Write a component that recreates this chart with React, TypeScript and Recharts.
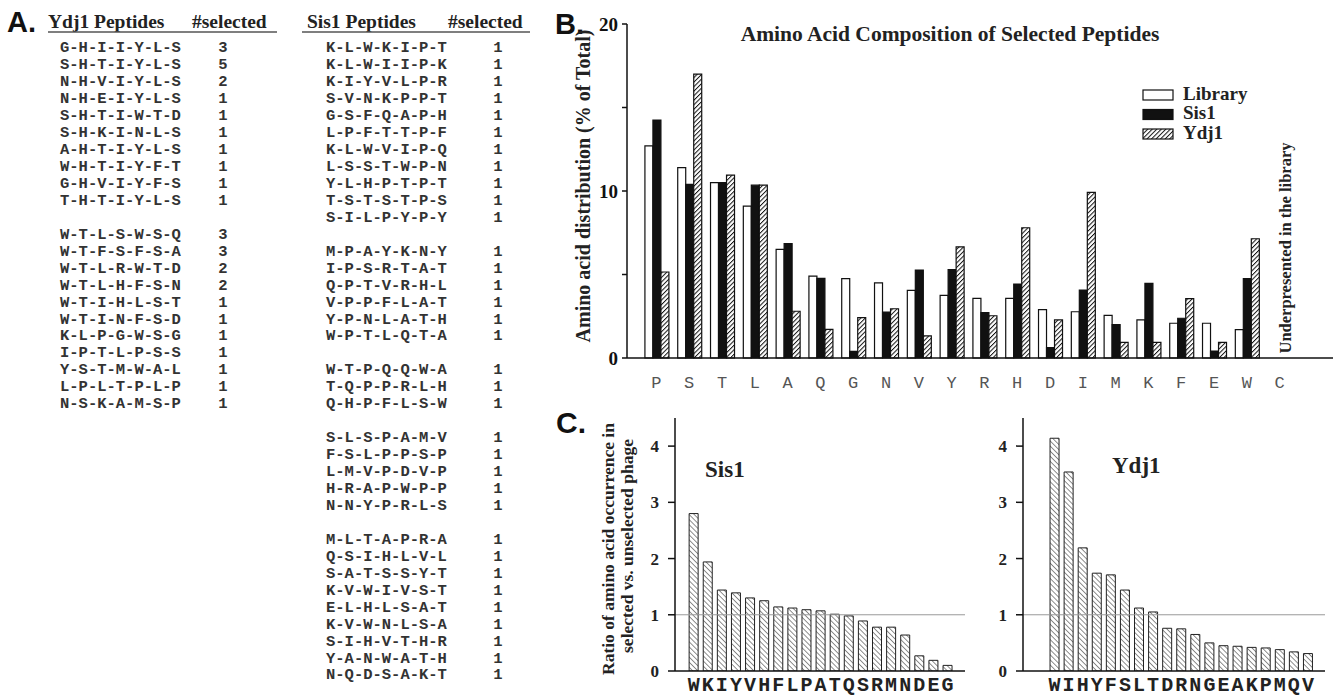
import React from 'react';
import { BarChart, Bar, XAxis, YAxis, ReferenceLine } from 'recharts';

const SERIF = '"Liberation Serif", "Times New Roman", serif';
const SANS = '"Liberation Sans", Arial, sans-serif';
const MONO = '"Liberation Mono", "Courier New", monospace';

// Panel A: selected peptides (groups separated by a blank row)
const ydj1Peptides: string[][] = [
  ['G-H-I-I-Y-L-S', 'S-H-T-I-Y-L-S', 'N-H-V-I-Y-L-S', 'N-H-E-I-Y-L-S', 'S-H-T-I-W-T-D',
    'S-H-K-I-N-L-S', 'A-H-T-I-Y-L-S', 'W-H-T-I-Y-F-T', 'G-H-V-I-Y-F-S', 'T-H-T-I-Y-L-S'],
  ['W-T-L-S-W-S-Q', 'W-T-F-S-F-S-A', 'W-T-L-R-W-T-D', 'W-T-L-H-F-S-N', 'W-T-I-H-L-S-T',
    'W-T-I-N-F-S-D', 'K-L-P-G-W-S-G', 'I-P-T-L-P-S-S', 'Y-S-T-M-W-A-L', 'L-P-L-T-P-L-P',
    'N-S-K-A-M-S-P'],
];
const ydj1Selected: number[][] = [
  [3, 5, 2, 1, 1, 1, 1, 1, 1, 1],
  [3, 3, 2, 2, 1, 1, 1, 1, 1, 1, 1],
];
const sis1Peptides: string[][] = [
  ['K-L-W-K-I-P-T', 'K-L-W-I-I-P-K', 'K-I-Y-V-L-P-R', 'S-V-N-K-P-P-T', 'G-S-F-Q-A-P-H',
    'L-P-F-T-T-P-F', 'K-L-W-V-I-P-Q', 'L-S-S-T-W-P-N', 'Y-L-H-P-T-P-T', 'T-S-T-S-T-P-S',
    'S-I-L-P-Y-P-Y'],
  ['M-P-A-Y-K-N-Y', 'I-P-S-R-T-A-T', 'Q-P-T-V-R-H-L', 'V-P-P-F-L-A-T', 'Y-P-N-L-A-T-H',
    'W-P-T-L-Q-T-A'],
  ['W-T-P-Q-Q-W-A', 'T-Q-P-P-R-L-H', 'Q-H-P-F-L-S-W'],
  ['S-L-S-P-A-M-V', 'F-S-L-P-P-S-P', 'L-M-V-P-D-V-P', 'H-R-A-P-W-P-P', 'N-N-Y-P-R-L-S'],
  ['M-L-T-A-P-R-A', 'Q-S-I-H-L-V-L', 'S-A-T-S-S-Y-T', 'K-V-W-I-V-S-T', 'E-L-H-L-S-A-T',
    'K-V-W-N-L-S-A', 'S-I-H-V-T-H-R', 'Y-A-N-W-A-T-H', 'N-Q-D-S-A-K-T'],
];
const sis1Selected: number[][] = [
  [1, 1, 1, 1, 1, 1, 1, 1, 1, 1, 1],
  [1, 1, 1, 1, 1, 1],
  [1, 1, 1],
  [1, 1, 1, 1, 1],
  [1, 1, 1, 1, 1, 1, 1, 1, 1],
];

// Panel B: amino acid composition (% of total)
const aminoAcids = ['P', 'S', 'T', 'L', 'A', 'Q', 'G', 'N', 'V', 'Y', 'R', 'H', 'D', 'I', 'M', 'K', 'F', 'E', 'W', 'C'];
const libraryPct = [12.7, 11.4, 10.5, 9.1, 6.5, 4.9, 4.75, 4.5, 4.05, 3.75, 3.57, 3.57, 2.9, 2.77, 2.55, 2.28, 2.08, 2.08, 1.7, null];
const sis1Pct = [14.25, 10.4, 10.5, 10.35, 6.85, 4.77, 0.4, 2.75, 5.27, 5.3, 2.72, 4.43, 0.62, 4.07, 2.0, 4.47, 2.38, 0.42, 4.75, null];
const ydj1Pct = [5.15, 17.0, 10.95, 10.35, 2.8, 1.72, 2.42, 2.95, 1.32, 6.66, 2.53, 7.8, 2.28, 9.92, 0.94, 0.94, 3.55, 0.94, 7.14, null];

// Panel C: ratio selected / unselected
const sis1Letters = ['W', 'K', 'I', 'Y', 'V', 'H', 'F', 'L', 'P', 'A', 'T', 'Q', 'S', 'R', 'M', 'N', 'D', 'E', 'G'];
const sis1Ratio = [2.8, 1.94, 1.44, 1.39, 1.3, 1.25, 1.14, 1.12, 1.09, 1.07, 1.01, 0.98, 0.89, 0.78, 0.78, 0.64, 0.27, 0.19, 0.1];
const ydj1Letters = ['W', 'I', 'H', 'Y', 'F', 'S', 'L', 'T', 'D', 'R', 'N', 'G', 'E', 'A', 'K', 'P', 'M', 'Q', 'V'];
const ydj1Ratio = [4.14, 3.54, 2.19, 1.74, 1.71, 1.44, 1.12, 1.05, 0.76, 0.75, 0.65, 0.5, 0.45, 0.44, 0.42, 0.41, 0.38, 0.34, 0.31];

const seriesB = [
  { key: 'library', name: 'Library', fill: '#ffffff' },
  { key: 'sis1', name: 'Sis1', fill: '#111111' },
  { key: 'ydj1', name: 'Ydj1', fill: 'url(#hatchB)' },
];

const compositionData = aminoAcids.map((aa, i) => ({
  aa,
  library: libraryPct[i],
  sis1: sis1Pct[i],
  ydj1: ydj1Pct[i],
}));

function PatternDefs() {
  return (
    <svg width={0} height={0} style={{ position: 'absolute' }}>
      <defs>
        <pattern id="hatchB" width={3.2} height={3.2} patternUnits="userSpaceOnUse" patternTransform="rotate(45)">
          <rect width={3.2} height={3.2} fill="#fff" />
          <line x1={0} y1={0} x2={0} y2={3.2} stroke="#111" strokeWidth={2} />
        </pattern>
        <pattern id="hatchC" width={3.6} height={3.6} patternUnits="userSpaceOnUse" patternTransform="rotate(-45)">
          <rect width={3.6} height={3.6} fill="#fff" />
          <line x1={0} y1={0} x2={0} y2={3.6} stroke="#444" strokeWidth={1.2} />
        </pattern>
      </defs>
    </svg>
  );
}

function PeptideTable({ groups, counts, seqX, numX }: { groups: string[][]; counts: number[][]; seqX: number; numX: number }) {
  const rows: React.ReactNode[] = [];
  let r = 0;
  groups.forEach((g, gi) => {
    g.forEach((pep, pi) => {
      const y = 52.3 + r * 16.95;
      rows.push(
        <g key={`${gi}-${pi}`}>
          <text x={seqX} y={y} fontFamily={MONO} fontWeight="bold" fontSize={15.5} fill="#333">{pep}</text>
          <text x={numX} y={y} fontFamily={MONO} fontWeight="bold" fontSize={15.5} fill="#333" textAnchor="middle">{counts[gi][pi]}</text>
        </g>
      );
      r++;
    });
    r++;
  });
  return <>{rows}</>;
}

function RatioChart({ letters, ratios, left, width, padLeft, padRight }: {
  letters: string[]; ratios: number[]; left: number; width: number; padLeft: number; padRight: number;
}) {
  const data = letters.map((aa, i) => ({ aa, ratio: ratios[i] }));
  return (
    <div style={{ position: 'absolute', left, top: 400 }}>
      <BarChart width={width} height={296} data={data} margin={{ top: 18, right: 5, bottom: 0, left: 0 }} barCategoryGap="18%">
        <XAxis
          dataKey="aa"
          interval={0}
          height={25}
          tickSize={0}
          tickMargin={6}
          padding={{ left: padLeft, right: padRight }}
          tickLine={false}
          axisLine={{ stroke: '#111', strokeWidth: 1.5 }}
          tick={{ fontFamily: MONO, fontWeight: 'bold', fontSize: 20, fill: '#222' }}
        />
        <YAxis
          width={45}
          domain={[0, 4.5]}
          ticks={[0, 1, 2, 3, 4]}
          allowDataOverflow
          tickSize={7}
          tickMargin={9}
          axisLine={{ stroke: '#111', strokeWidth: 1.5 }}
          tickLine={{ stroke: '#111', strokeWidth: 1.5 }}
          tick={{ fontFamily: SERIF, fontWeight: 'bold', fontSize: 17, fill: '#222' }}
        />
        <ReferenceLine y={1} stroke="#999" strokeWidth={1} />
        <Bar dataKey="ratio" fill="url(#hatchC)" stroke="#222" strokeWidth={1} isAnimationActive={false} />
      </BarChart>
    </div>
  );
}

export default function App() {
  return (
    <div style={{ position: 'absolute', left: 0, top: 0, width: 1337, height: 696, background: '#fff', overflow: 'hidden' }}>
      <PatternDefs />

      <div style={{ position: 'absolute', left: 540, top: 0 }}>
        <BarChart
          width={797}
          height={400}
          data={compositionData}
          margin={{ top: 24, right: 4, bottom: 12, left: 0 }}
          barCategoryGap="15%"
          barGap={0}
        >
          <XAxis
            dataKey="aa"
            interval={0}
            height={30}
            tickSize={0}
            tickMargin={18}
            padding={{ left: 13, right: 37 }}
            tickLine={false}
            axisLine={{ stroke: '#111', strokeWidth: 1.5 }}
            tick={{ fontFamily: MONO, fontSize: 17, fill: '#555' }}
          />
          <YAxis
            width={87}
            domain={[0, 20]}
            ticks={[0, 5, 10, 15, 20]}
            tickFormatter={(v: number) => (v % 10 === 0 ? String(v) : '')}
            tickSize={5}
            tickMargin={4}
            axisLine={{ stroke: '#111', strokeWidth: 1.5 }}
            tickLine={{ stroke: '#111', strokeWidth: 1.5 }}
            tick={{ fontFamily: SERIF, fontWeight: 'bold', fontSize: 19, fill: '#111' }}
          />
          {seriesB.map((s) => (
            <Bar key={s.key} dataKey={s.key} name={s.name} fill={s.fill} stroke="#111" strokeWidth={1.2} isAnimationActive={false} />
          ))}
        </BarChart>
      </div>

      <RatioChart letters={sis1Letters} ratios={sis1Ratio} left={630} width={340} padLeft={11.6} padRight={10.4} />
      <RatioChart letters={ydj1Letters} ratios={ydj1Ratio} left={978} width={352} padLeft={24.5} padRight={10} />

      <svg width={1337} height={696} style={{ position: 'absolute', left: 0, top: 0, pointerEvents: 'none' }}>
        {/* Panel A */}
        <text x={7} y={32} fontFamily={SANS} fontWeight="bold" fontSize={29} fill="#111">A.</text>
        <text x={48} y={28} fontFamily={SERIF} fontWeight="bold" fontSize={19.5} fill="#222">Ydj1 Peptides</text>
        <text x={192} y={28} fontFamily={SERIF} fontWeight="bold" fontSize={19.5} fill="#222">#selected</text>
        <line x1={48} y1={32} x2={277} y2={32} stroke="#555" strokeWidth={1.5} />
        <text x={307} y={28} fontFamily={SERIF} fontWeight="bold" fontSize={19.5} fill="#222">Sis1 Peptides</text>
        <text x={448} y={28} fontFamily={SERIF} fontWeight="bold" fontSize={19.5} fill="#222">#selected</text>
        <line x1={302} y1={32} x2={530} y2={32} stroke="#555" strokeWidth={1.5} />
        <PeptideTable groups={ydj1Peptides} counts={ydj1Selected} seqX={60} numX={223} />
        <PeptideTable groups={sis1Peptides} counts={sis1Selected} seqX={326} numX={498} />

        {/* Panel B */}
        <text x={555} y={34} fontFamily={SANS} fontWeight="bold" fontSize={29} fill="#111">B.</text>
        <text x={950} y={41} textAnchor="middle" fontFamily={SERIF} fontWeight="bold" fontSize={21.5} fill="#222">
          Amino Acid Composition of Selected Peptides
        </text>
        <text x={590} y={186} textAnchor="middle" transform="rotate(-90 590 186)" fontFamily={SERIF} fontWeight="bold" fontSize={20} fill="#222">
          Amino acid distribution (% of Total)
        </text>
        {seriesB.map((s, i) => (
          <g key={s.key}>
            <rect x={1143} y={90 + i * 19.5} width={30} height={10} fill={s.fill} stroke="#111" strokeWidth={1.2} />
            <text x={1183} y={99.5 + i * 19.5} fontFamily={SERIF} fontWeight="bold" fontSize={19} fill="#222">{s.name}</text>
          </g>
        ))}
        <text x={1291} y={248} textAnchor="middle" transform="rotate(-90 1291 248)" fontFamily={SERIF} fontWeight="bold" fontSize={16.5} fill="#222">
          Underpresented in the library
        </text>

        {/* Panel C */}
        <text x={556} y={433} fontFamily={SANS} fontWeight="bold" fontSize={30} fill="#111">C.</text>
        <text x={614} y={549} textAnchor="middle" transform="rotate(-90 614 549)" fontFamily={SERIF} fontWeight="bold" fontSize={17.5} fill="#222">
          Ratio of amino acid occurrence in
        </text>
        <text x={633} y={546} textAnchor="middle" transform="rotate(-90 633 546)" fontFamily={SERIF} fontWeight="bold" fontSize={17.5} fill="#222">
          selected vs. unselected phage
        </text>
        <text x={705} y={477} fontFamily={SERIF} fontWeight="bold" fontSize={23} fill="#222">Sis1</text>
        <text x={1112} y={473} fontFamily={SERIF} fontWeight="bold" fontSize={23} fill="#222">Ydj1</text>
      </svg>
    </div>
  );
}
